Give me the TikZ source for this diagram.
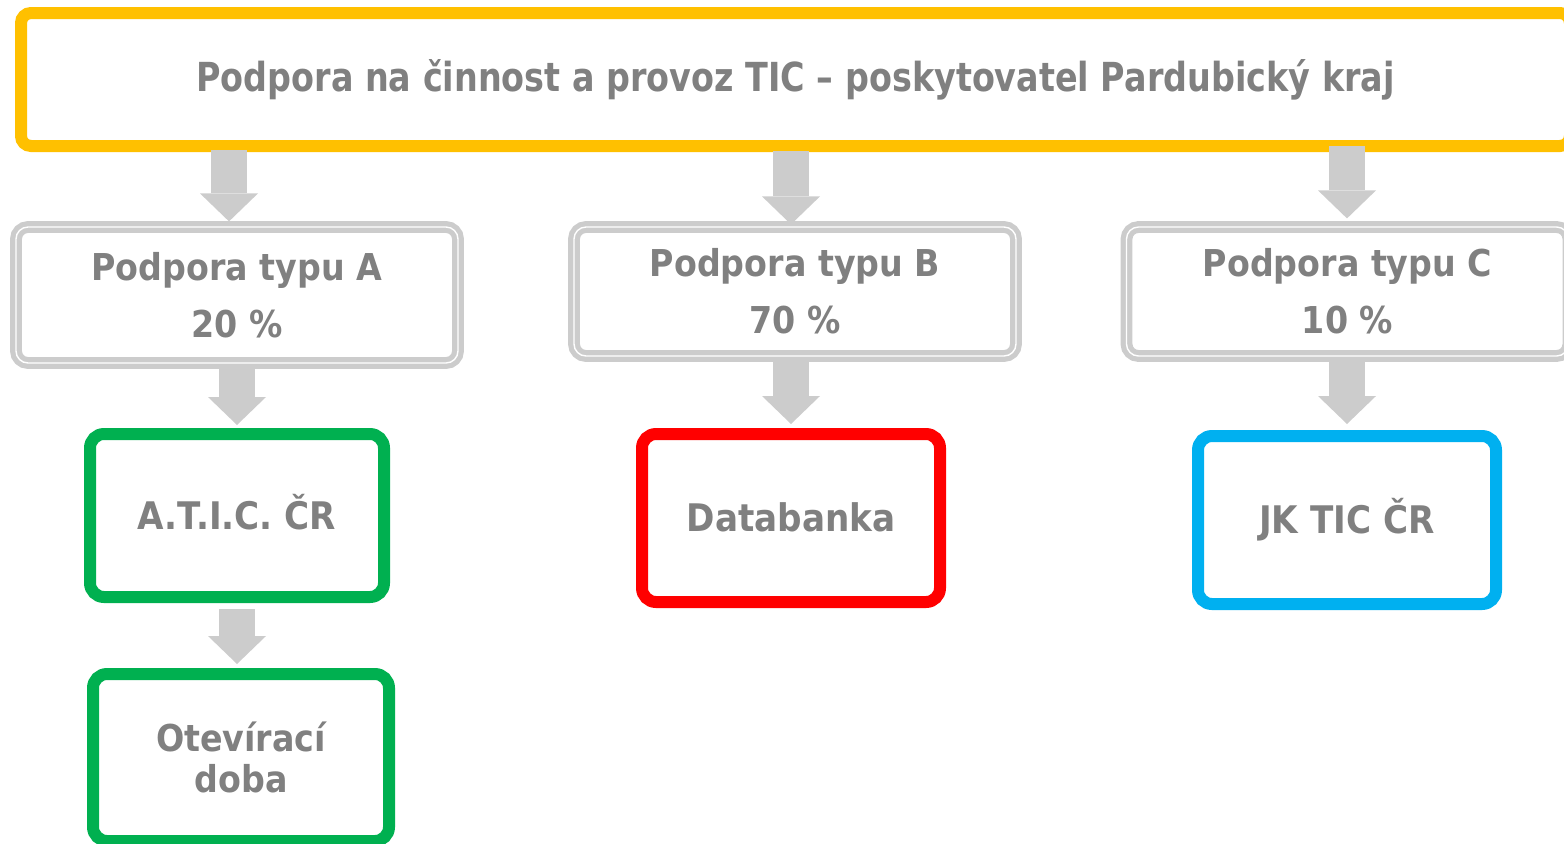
\documentclass[tikz,border=0pt]{standalone}
\usepackage{fontspec}
\setmainfont{DejaVu Sans}[FakeStretch=0.9]
\newfontfamily\nadpis{DejaVu Sans}[FakeStretch=0.835]
\usetikzlibrary{arrows.meta}
\definecolor{zluta}{HTML}{FFC000}
\definecolor{zelena}{HTML}{00B050}
\definecolor{cervena}{HTML}{FF0000}
\definecolor{modra}{HTML}{00B0F0}
\definecolor{seda}{HTML}{CCCCCC}
\definecolor{pismo}{HTML}{808080}
\tikzset{
  txt/.style={text=pismo, font=\bfseries\fontsize{18.5}{28.5}\selectfont, align=center},
  ramec/.style={txt, draw=#1, line width=6pt, rounded corners=7pt, fill=white},
  jedna/.style={text height=13.9pt, text depth=0pt},
  typ/.style={txt, draw=seda, double=white, line width=2.6pt, double distance=0.7pt,
    rounded corners=6pt, minimum width=221pt},
  sipka/.style={draw=seda, line width=18pt,
    -{Triangle[width=29pt, length=14pt, line width=0pt]}},
}
\begin{document}
\begin{tikzpicture}[x=0.5pt, y=-0.5pt]
\useasboundingbox (0,0) rectangle (1564,843);
%
\node[ramec=zluta, rounded corners=5pt, minimum width=774.5pt, minimum height=66.5pt,
  font=\nadpis\bfseries\fontsize{20}{24}\selectfont] (top) at (795.5,79.5)
  {Podpora na činnost a provoz TIC – poskytovatel Pardubický kraj};
%
\node[typ, minimum height=68pt]   (typA) at (237,295)    {Podpora typu A\\20 \%};
\node[typ, minimum height=64.5pt] (typB) at (795,291.5)  {Podpora typu B\\70 \%};
\node[typ, minimum height=64.5pt] (typC) at (1347.5,291.5) {Podpora typu C\\10 \%};
%
\node[ramec=zelena, jedna, minimum width=147pt, minimum height=81.5pt,
  font=\bfseries\fontsize{19}{24}\selectfont] (atic) at (237,515.5) {A.T.I.C. ČR};
\node[ramec=cervena, jedna, minimum width=149pt, minimum height=84pt,
  font=\bfseries\fontsize{19}{24}\selectfont] (data) at (791,518) {Databanka};
\node[ramec=modra, jedna, minimum width=149pt, minimum height=84pt,
  font=\bfseries\fontsize{19}{24}\selectfont] (jktic) at (1347,520) {JK TIC ČR};
\node[ramec=zelena, minimum width=148pt, minimum height=83.5pt,
  font=\bfseries\fontsize{18.5}{20.5}\selectfont] (doba) at (241,757.5) {Otevírací\\doba};
%
\coordinate (sA) at (229,0);
\coordinate (sB) at (791,0);
\coordinate (sC) at (1347,0);
\draw[sipka, shorten <=-1pt, shorten >=1.5pt] (sA |- top.south) -- (sA |- typA.north);
\draw[sipka, shorten <=-0.5pt] (sB |- top.south) -- (sB |- typB.north);
\draw[sipka, shorten <=-3pt, shorten >=3pt] (sC |- top.south) -- (sC |- typC.north);
%
\draw[sipka, shorten <=-0.5pt, shorten >=1.5pt] (typA.south -| atic.north) -- (atic.north);
\draw[sipka, shorten >=2pt] (typB.south -| sB) -- (sB |- data.north);
\draw[sipka, shorten >=3pt] (typC.south -| jktic.north) -- (jktic.north);
\draw[sipka, shorten <=3pt, shorten >=2pt] (atic.south) -- (atic.south |- doba.north);
%
\end{tikzpicture}
\end{document}
